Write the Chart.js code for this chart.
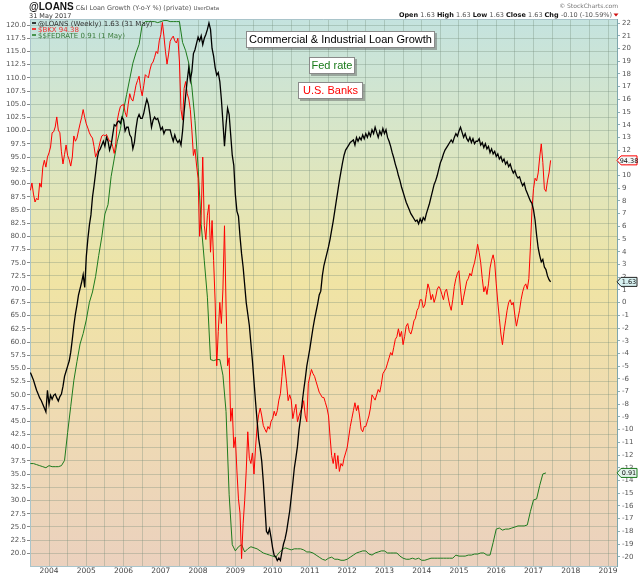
<!DOCTYPE html>
<html>
<head>
<meta charset="utf-8">
<title>C&amp;I Loan Growth</title>
<script src="https://cdn.jsdelivr.net/npm/chart.js@4.4.1/dist/chart.umd.min.js"></script>
<style>
  html, body { margin: 0; padding: 0; background: #fff; }
  #wrap { width: 640px; height: 576px; }
</style>
</head>
<body>
<div id="wrap"><canvas id="chart" width="640" height="576"></canvas></div>
<script>
// C&I loan growth vs. bank index vs. fed funds rate, StockCharts look

// x axis: decimal years
const yearTicks = [2004, 2005, 2006, 2007, 2008, 2009, 2010, 2011, 2012, 2013, 2014, 2015, 2016, 2017, 2018, 2019];

// left axis ($BKX)
const leftTicks = [20, 22.5, 25, 27.5, 30, 32.5, 35, 37.5, 40, 42.5, 45, 47.5, 50, 52.5, 55, 57.5, 60, 62.5, 65, 67.5,
  70, 72.5, 75, 77.5, 80, 82.5, 85, 87.5, 90, 92.5, 95, 97.5, 100, 102.5, 105, 107.5, 110, 112.5, 115, 117.5, 120];

// right axis (@LOANS, %)
const rightTicks = [22, 21, 20, 19, 18, 17, 16, 15, 14, 13, 12, 11, 10, 9, 8, 7, 6, 5, 4, 3, 2, 1, 0,
  -1, -2, -3, -4, -5, -6, -7, -8, -9, -10, -11, -12, -13, -14, -15, -16, -17, -18, -19, -20];

// @LOANS C&I loan growth, two readings a month from Jul 2003
const loansStart = 2003.5;
const loans = [
  -5.5, -5.8, -6.1, -6.5, -6.9, -7.2, -7.5, -7.7, -8.0, -8.3, -8.6, -6.9, -8.0, -7.3, -7.6, -7.3, -7.2, -7.5, -7.75, -7.4, -7.2, -6.6, -5.8, -5.4,
  -5.0, -4.6, -3.9, -2.9, -1.8, -0.9, -0.2, 0.6, 1.1, 1.6, 2.2, 1.2, 3.6, 5.0, 6.1, 6.9, 8.3, 9.2, 10.2, 11.3, 11.9, 12.1, 12.4, 12.7,
  12.3, 13.0, 12.7, 12.0, 12.4, 13.2, 14.0, 13.9, 14.2, 14.3, 14.1, 14.6, 14.4, 13.5, 13.8, 13.8, 13.2, 13.0, 12.1, 12.6, 13.7, 14.5, 14.8, 14.5,
  14.5, 14.9, 15.5, 16.0, 15.6, 14.8, 13.8, 14.35, 14.6, 14.4, 14.5, 14.1, 13.6, 13.8, 13.3, 13.6, 13.6, 13.6, 13.6, 13.1, 12.7, 13.2, 12.8, 12.6,
  12.8, 12.4, 13.5, 15.0, 16.3, 17.5, 18.5, 17.5, 18.2, 19.6, 19.9, 20.4, 20.9, 20.6, 21.0, 20.3, 20.8, 21.1, 21.5, 22.0, 21.5, 20.0, 19.4, 18.5,
  17.9, 18.1, 17.4, 16.0, 14.2, 12.3, 14.0, 15.3, 14.8, 13.2, 11.6, 10.8, 8.5, 7.2, 6.8, 5.2, 3.85, 2.8, 1.4, 0.0, -0.9, -1.8, -3.2, -4.6,
  -6.2, -7.8, -9.3, -10.7, -11.5, -12.5, -14.1, -16.0, -18.0, -18.2, -17.8, -18.5, -19.3, -19.9, -20.0, -20.3, -20.1, -20.3, -19.6, -19.0, -18.6, -18.0, -17.2, -16.4,
  -15.3, -14.2, -13.0, -12.2, -11.3, -10.0, -9.1, -7.9, -6.9, -6.0, -5.0, -4.3, -3.6, -2.8, -2.0, -1.3, -0.7, -0.1, 0.6, 0.9, 2.1, 2.9, 3.4, 3.9,
  4.4, 5.0, 5.7, 6.4, 7.2, 8.0, 8.8, 9.6, 10.3, 11.0, 11.6, 12.0, 12.2, 12.4, 12.6, 12.7, 12.8, 12.4, 13.0, 12.7, 13.0, 12.8, 13.2, 12.9,
  13.3, 13.0, 13.4, 13.1, 13.6, 13.3, 13.8, 13.4, 13.0, 13.5, 13.2, 13.7, 13.3, 13.6, 13.0, 12.7, 12.3, 11.8, 11.4, 10.9, 10.5, 10.0, 9.6, 9.1,
  8.7, 8.3, 7.9, 7.6, 7.3, 7.0, 6.8, 6.6, 6.4, 6.5, 6.2, 6.6, 6.3, 6.7, 6.5, 7.0, 7.4, 7.8, 8.3, 8.8, 9.3, 9.6, 10.0, 10.5,
  11.0, 11.3, 11.7, 12.0, 12.2, 12.4, 12.6, 12.8, 12.6, 13.0, 13.3, 13.1, 13.5, 13.8, 13.4, 13.0, 13.3, 12.9, 12.7, 13.0, 12.6, 12.9, 12.5, 12.7,
  12.7, 12.9, 12.4, 12.6, 12.2, 12.5, 12.1, 12.3, 11.8, 12.1, 11.7, 11.9, 11.5, 11.7, 11.3, 11.5, 11.1, 11.3, 10.9, 11.1, 10.7, 10.9, 10.5, 10.2,
  10.4, 10.0, 9.8, 9.9, 9.5, 9.2, 9.4, 8.9, 8.6, 8.3, 8.0, 7.8, 7.3, 6.5, 5.3, 4.3, 3.7, 3.2, 3.4, 2.8, 2.6, 2.1, 1.8, 1.63
];

// $BKX bank index, two readings a month from Jul 2003
const bkxStart = 2003.5;
const bkx = [
  88.7, 90.1, 88.0, 86.5, 87.2, 86.9, 90.1, 89.3, 93.1, 94.4, 93.1, 95.0, 95.8, 96.9, 99.6, 99.8, 100.7, 102.6, 100.1, 99.6, 96.0, 93.7, 95.5, 97.3,
  95.3, 94.5, 93.3, 95.0, 99.0, 98.0, 98.6, 100.0, 101.3, 102.5, 104.0, 102.5, 101.3, 100.5, 99.6, 99.0, 98.6, 97.0, 95.0, 95.8, 96.7, 98.0, 99.0, 99.2,
  99.0, 99.3, 98.6, 98.0, 98.0, 97.0, 95.7, 97.5, 102.0, 103.5, 104.6, 104.8, 105.0, 103.5, 102.6, 105.0, 107.0, 106.0, 105.6, 107.0, 108.6, 109.5, 110.3, 108.0,
  106.6, 108.5, 110.6, 110.3, 110.0, 111.5, 112.6, 113.0, 113.9, 115.0, 114.6, 117.0, 118.2, 120.5, 117.9, 115.0, 112.6, 114.5, 116.9, 117.5, 117.9, 117.0, 116.6, 117.5,
  113.0, 104.0, 102.0, 108.0, 109.3, 107.0, 106.0, 104.0, 100.0, 95.3, 96.5, 93.5, 91.0, 80.0, 84.0, 95.0, 82.0, 79.4, 84.0, 86.0, 77.0, 83.0, 75.4, 67.5,
  55.5, 62.0, 67.5, 63.5, 70.0, 82.0, 67.0, 55.5, 57.0, 45.0, 47.5, 40.0, 42.0, 35.6, 30.3, 27.6, 19.0, 25.6, 30.0, 35.6, 43.0, 38.0, 37.0, 39.0,
  35.0, 40.0, 44.0, 46.2, 47.5, 46.0, 44.2, 43.5, 42.9, 44.0, 43.5, 45.0, 45.5, 46.9, 46.0, 47.0, 49.0, 50.2, 53.5, 57.5, 55.0, 52.2, 48.9, 50.0,
  49.0, 45.5, 47.0, 48.2, 44.9, 46.0, 46.9, 47.5, 48.9, 46.0, 44.9, 52.2, 53.5, 54.8, 54.0, 53.5, 52.5, 51.5, 50.5, 50.0, 49.5, 49.5, 48.5, 47.5,
  46.0, 42.0, 38.5, 37.0, 39.0, 36.0, 38.5, 35.5, 37.0, 36.5, 38.0, 39.0, 40.0, 42.0, 44.0, 45.5, 47.0, 48.5, 47.0, 48.0, 46.0, 43.5, 43.0, 44.0,
  44.0, 45.0, 46.0, 47.5, 50.0, 49.5, 49.0, 50.0, 51.0, 50.5, 52.0, 54.0, 54.5, 55.0, 56.0, 57.0, 58.0, 57.5, 59.0, 60.5, 61.0, 62.5, 61.0, 62.0,
  59.5, 61.0, 63.0, 63.5, 62.0, 61.5, 62.5, 64.0, 64.5, 66.0, 66.5, 68.0, 68.0, 66.5, 67.0, 69.0, 71.0, 70.0, 68.0, 69.0, 67.5, 68.5, 70.0, 70.5,
  70.0, 69.0, 68.0, 69.5, 70.0, 68.5, 67.0, 66.0, 68.0, 70.5, 72.0, 73.0, 73.5, 70.0, 67.0, 68.5, 70.0, 71.5, 72.0, 73.0, 72.5, 74.0, 75.0, 76.5,
  78.5, 77.0, 75.0, 72.0, 69.5, 70.5, 69.0, 71.0, 74.0, 75.5, 76.5, 75.0, 71.0, 67.5, 64.5, 61.5, 59.5, 62.0, 64.0, 66.0, 67.5, 68.0, 67.0, 67.5,
  65.0, 63.0, 64.5, 66.0, 68.0, 69.5, 70.5, 71.0, 70.0, 72.0, 78.0, 85.0, 89.0, 91.0, 90.5, 92.0, 95.0, 97.5, 94.0, 89.0, 88.5, 90.5, 92.0, 94.38
];

// $$FEDRATE, monthly from Jul 2003
const fedStart = 2003.5;
const fedRate = [
  1.00, 1.00, 0.99, 0.98, 0.97, 0.96, 0.98, 0.97, 0.97, 0.97, 0.98, 1.03,
  1.30, 1.55, 1.80, 1.98, 2.15, 2.25, 2.38, 2.55, 2.65, 2.80, 3.00, 3.18,
  3.40, 3.49, 3.76, 3.93, 4.10, 4.22, 4.40, 4.55, 4.70, 4.85, 4.95, 5.03,
  5.22, 5.25, 5.25, 5.25, 5.25, 5.24, 5.25, 5.26, 5.26, 5.25, 5.25, 5.25,
  5.25, 5.05, 4.97, 4.85, 4.62, 4.30, 3.85, 3.30, 2.95, 2.60, 2.00, 1.99,
  2.00, 2.00, 1.85, 1.50, 0.70, 0.22, 0.16, 0.20, 0.22, 0.15, 0.18, 0.20,
  0.19, 0.18, 0.16, 0.14, 0.13, 0.12, 0.11, 0.10, 0.14, 0.17, 0.19, 0.18,
  0.17, 0.18, 0.18, 0.18, 0.17, 0.15, 0.15, 0.14, 0.12, 0.10, 0.08, 0.07,
  0.09, 0.10, 0.08, 0.08, 0.07, 0.07, 0.08, 0.10, 0.12, 0.14, 0.15, 0.16,
  0.16, 0.13, 0.12, 0.14, 0.15, 0.16, 0.16, 0.14, 0.14, 0.14, 0.14, 0.11,
  0.09, 0.08, 0.08, 0.09, 0.08, 0.09, 0.07, 0.07, 0.08, 0.09, 0.09, 0.09,
  0.09, 0.09, 0.09, 0.09, 0.09, 0.12, 0.11, 0.11, 0.11, 0.12, 0.12, 0.13,
  0.13, 0.14, 0.14, 0.12, 0.12, 0.24, 0.37, 0.38, 0.36, 0.37, 0.37, 0.38,
  0.39, 0.40, 0.40, 0.40, 0.41, 0.54, 0.65, 0.66, 0.79, 0.90, 0.91
];

const FONT = '"DejaVu Sans", Verdana, sans-serif';
const GRID = 'rgba(112, 136, 118, 0.32)';
const RED = '#ff0000';
const GREEN = '#1e7b1e';

function toPoints(values, start, perYear) {
  return values.map((v, i) => ({ x: start + i / perYear, y: v }));
}

function last(arr) {
  return arr[arr.length - 1];
}

// plot background: teal -> yellow -> peach
const backgroundPlugin = {
  id: 'scBackground',
  beforeDraw(chart) {
    const { ctx, chartArea: a } = chart;
    ctx.save();
    ctx.fillStyle = '#ffffff';
    ctx.fillRect(0, 0, chart.width, chart.height);
    const g = ctx.createLinearGradient(0, a.top, 0, a.bottom);
    g.addColorStop(0, '#c4e3df');
    g.addColorStop(0.22, '#d9e6c6');
    g.addColorStop(0.48, '#f0e4a4');
    g.addColorStop(0.72, '#efdbb2');
    g.addColorStop(1, '#ebd1be');
    ctx.fillStyle = g;
    ctx.fillRect(a.left, a.top, a.right - a.left, a.bottom - a.top);
    ctx.restore();
  }
};

function drawRuns(ctx, runs, x, y) {
  runs.forEach(r => {
    ctx.font = r.font;
    ctx.fillStyle = r.color;
    ctx.fillText(r.text, x, y);
    x += ctx.measureText(r.text).width;
  });
}

function runsWidth(ctx, runs) {
  let w = 0;
  runs.forEach(r => {
    ctx.font = r.font;
    w += ctx.measureText(r.text).width;
  });
  return w;
}

function noteBox(ctx, x, y, w, h, text, color) {
  ctx.fillStyle = 'rgba(90, 90, 90, 0.45)';
  ctx.fillRect(x + 2, y + 2, w, h);
  ctx.fillStyle = '#ffffff';
  ctx.fillRect(x, y, w, h);
  ctx.strokeStyle = '#8a8a8a';
  ctx.lineWidth = 1;
  ctx.strokeRect(x + 0.5, y + 0.5, w - 1, h - 1);
  ctx.font = '11px "Liberation Sans", Arial, sans-serif';
  ctx.fillStyle = color;
  ctx.textAlign = 'center';
  ctx.textBaseline = 'middle';
  ctx.fillText(text, x + w / 2, y + h / 2 + 0.5);
  ctx.textAlign = 'left';
  ctx.textBaseline = 'alphabetic';
}

function valueTag(ctx, x, y, text, stroke, fill) {
  ctx.beginPath();
  ctx.moveTo(x, y);
  ctx.lineTo(x + 4, y - 4.5);
  ctx.lineTo(x + 20, y - 4.5);
  ctx.lineTo(x + 20, y + 4.5);
  ctx.lineTo(x + 4, y + 4.5);
  ctx.closePath();
  ctx.fillStyle = fill;
  ctx.fill();
  ctx.strokeStyle = stroke;
  ctx.lineWidth = 1;
  ctx.stroke();
  ctx.font = '6.5px ' + FONT;
  ctx.fillStyle = '#111';
  ctx.textAlign = 'center';
  ctx.textBaseline = 'middle';
  ctx.fillText(text, x + 12, y + 0.5);
  ctx.textAlign = 'left';
  ctx.textBaseline = 'alphabetic';
}

// header, in-plot legend, notes and last-value tags
const overlayPlugin = {
  id: 'scOverlay',
  afterDraw(chart) {
    const { ctx, chartArea: a, scales } = chart;
    ctx.save();

    // top border of the plot
    ctx.strokeStyle = '#a9c4ca';
    ctx.lineWidth = 1;
    ctx.beginPath();
    ctx.moveTo(a.left, a.top + 0.5);
    ctx.lineTo(a.right, a.top + 0.5);
    ctx.stroke();

    // header left
    drawRuns(ctx, [
      { text: '@LOANS', font: 'bold 10px "Liberation Sans", Arial, sans-serif', color: '#111' },
      { text: ' C&I Loan Growth (Y-o-Y %) (private) ', font: '6.5px ' + FONT, color: '#555' },
      { text: 'UserData', font: '5.5px ' + FONT, color: '#555' }
    ], 29, 10);
    drawRuns(ctx, [{ text: '31 May 2017', font: '6.5px ' + FONT, color: '#333' }], 29, 17.5);

    // header right
    ctx.font = '6px ' + FONT;
    ctx.fillStyle = '#777';
    ctx.textAlign = 'right';
    ctx.fillText('\u00a9 StockCharts.com', 618, 8);
    ctx.textAlign = 'left';
    const b = 'bold 6.5px ' + FONT, n = '6.5px ' + FONT;
    const v = last(loans).toFixed(2);
    const quote = [
      { text: 'Open ', font: b, color: '#111' }, { text: v + ' ', font: n, color: '#555' },
      { text: 'High ', font: b, color: '#111' }, { text: v + ' ', font: n, color: '#555' },
      { text: 'Low ', font: b, color: '#111' }, { text: v + ' ', font: n, color: '#555' },
      { text: 'Close ', font: b, color: '#111' }, { text: v + ' ', font: n, color: '#555' },
      { text: 'Chg ', font: b, color: '#111' }, { text: '-0.10 (-10.59%)', font: n, color: '#555' }
    ];
    drawRuns(ctx, quote, 612 - runsWidth(ctx, quote), 17);
    ctx.fillStyle = '#d01010';
    ctx.beginPath();
    ctx.moveTo(613.5, 13.5);
    ctx.lineTo(618.5, 13.5);
    ctx.lineTo(616, 16.5);
    ctx.closePath();
    ctx.fill();

    // legend inside the plot
    const legend = [
      { text: '@LOANS (Weekly) ' + last(loans).toFixed(2) + ' (31 May)', line: '#000', color: '#333' },
      { text: '$BKX ' + last(bkx).toFixed(2), line: RED, color: '#ee3030' },
      { text: '$$FEDRATE ' + last(fedRate).toFixed(2) + ' (1 May)', line: GREEN, color: '#3a7a3a' }
    ];
    legend.forEach((item, i) => {
      const y = a.top + 4 + i * 6;
      ctx.strokeStyle = item.line;
      ctx.lineWidth = 1.5;
      ctx.beginPath();
      ctx.moveTo(a.left + 2, y);
      ctx.lineTo(a.left + 6, y);
      ctx.stroke();
      ctx.font = '7px ' + FONT;
      ctx.fillStyle = item.color;
      ctx.fillText(item.text, a.left + 8, y + 2.5);
    });

    // notes
    noteBox(ctx, 246, 31, 189, 17, 'Commercial & Industrial Loan Growth', '#000');
    noteBox(ctx, 309, 57, 46, 17, 'Fed rate', '#1a7a1a');
    noteBox(ctx, 298, 82, 65, 17, 'U.S. Banks', RED);

    // last-value tags on the right axis
    valueTag(ctx, a.right, scales.yL.getPixelForValue(last(bkx)), last(bkx).toFixed(2), RED, '#f4f8f8');
    valueTag(ctx, a.right, scales.yR.getPixelForValue(last(loans)), last(loans).toFixed(2), '#222', '#d8f2f2');
    valueTag(ctx, a.right, scales.yG.getPixelForValue(last(fedRate)), last(fedRate).toFixed(2), GREEN, '#e4f4ec');

    ctx.restore();
  }
};

Chart.defaults.font.family = FONT;
Chart.defaults.color = '#555';

new Chart(document.getElementById('chart'), {
  type: 'line',
  data: {
    datasets: [
      {
        label: '@LOANS',
        data: toPoints(loans, loansStart, 24),
        yAxisID: 'yR',
        borderColor: '#000',
        borderWidth: 1.3,
        pointRadius: 0,
        tension: 0
      },
      {
        label: '$BKX',
        data: toPoints(bkx, bkxStart, 24),
        yAxisID: 'yL',
        borderColor: RED,
        borderWidth: 1,
        pointRadius: 0,
        tension: 0
      },
      {
        label: '$$FEDRATE',
        data: toPoints(fedRate, fedStart, 12),
        yAxisID: 'yG',
        borderColor: GREEN,
        borderWidth: 1,
        pointRadius: 0,
        tension: 0
      }
    ]
  },
  options: {
    responsive: false,
    animation: false,
    events: [],
    layout: { padding: { top: 19, left: 0, right: 0, bottom: 0 } },
    plugins: {
      legend: { display: false },
      title: { display: false },
      tooltip: { enabled: false }
    },
    scales: {
      x: {
        type: 'linear',
        position: 'bottom',
        min: 2003.49,
        max: 2019.24,
        afterBuildTicks: scale => {
          const t = [];
          yearTicks.forEach(y => {
            t.push({ value: y - 0.5 });
            t.push({ value: y });
          });
          scale.ticks = t;
        },
        afterFit: scale => { scale.height = 10; },
        grid: { color: GRID, drawTicks: false },
        border: { display: true, color: '#a9c4ca' },
        ticks: {
          autoSkip: false,
          maxRotation: 0,
          padding: 1,
          font: { size: 7.5 },
          color: '#444',
          callback: value => Number.isInteger(value) ? String(value) : ''
        }
      },
      yL: {
        type: 'linear',
        position: 'left',
        min: 17.6,
        max: 121.14,
        afterBuildTicks: scale => { scale.ticks = leftTicks.map(v => ({ value: v })); },
        afterFit: scale => { scale.width = 30; },
        grid: { color: GRID, tickColor: '#888', tickLength: 3 },
        border: { display: true, color: '#a9c4ca' },
        ticks: {
          padding: 1,
          font: { size: 7 },
          color: '#555',
          callback: value => value.toFixed(1)
        }
      },
      yR: {
        type: 'linear',
        position: 'right',
        min: -20.73,
        max: 22.32,
        afterBuildTicks: scale => { scale.ticks = rightTicks.map(v => ({ value: v })); },
        afterFit: scale => { scale.width = 23; },
        grid: { drawOnChartArea: false, tickColor: '#8fb0b6', tickLength: 3 },
        border: { display: true, color: '#7fa6ad', dash: [1, 1] },
        ticks: {
          padding: 2,
          font: { size: 7 },
          color: '#555',
          callback: value => String(value)
        }
      },
      yG: {
        type: 'linear',
        display: false,
        min: 0.015,
        max: 5.275
      }
    }
  },
  plugins: [backgroundPlugin, overlayPlugin]
});
</script>
</body>
</html>
